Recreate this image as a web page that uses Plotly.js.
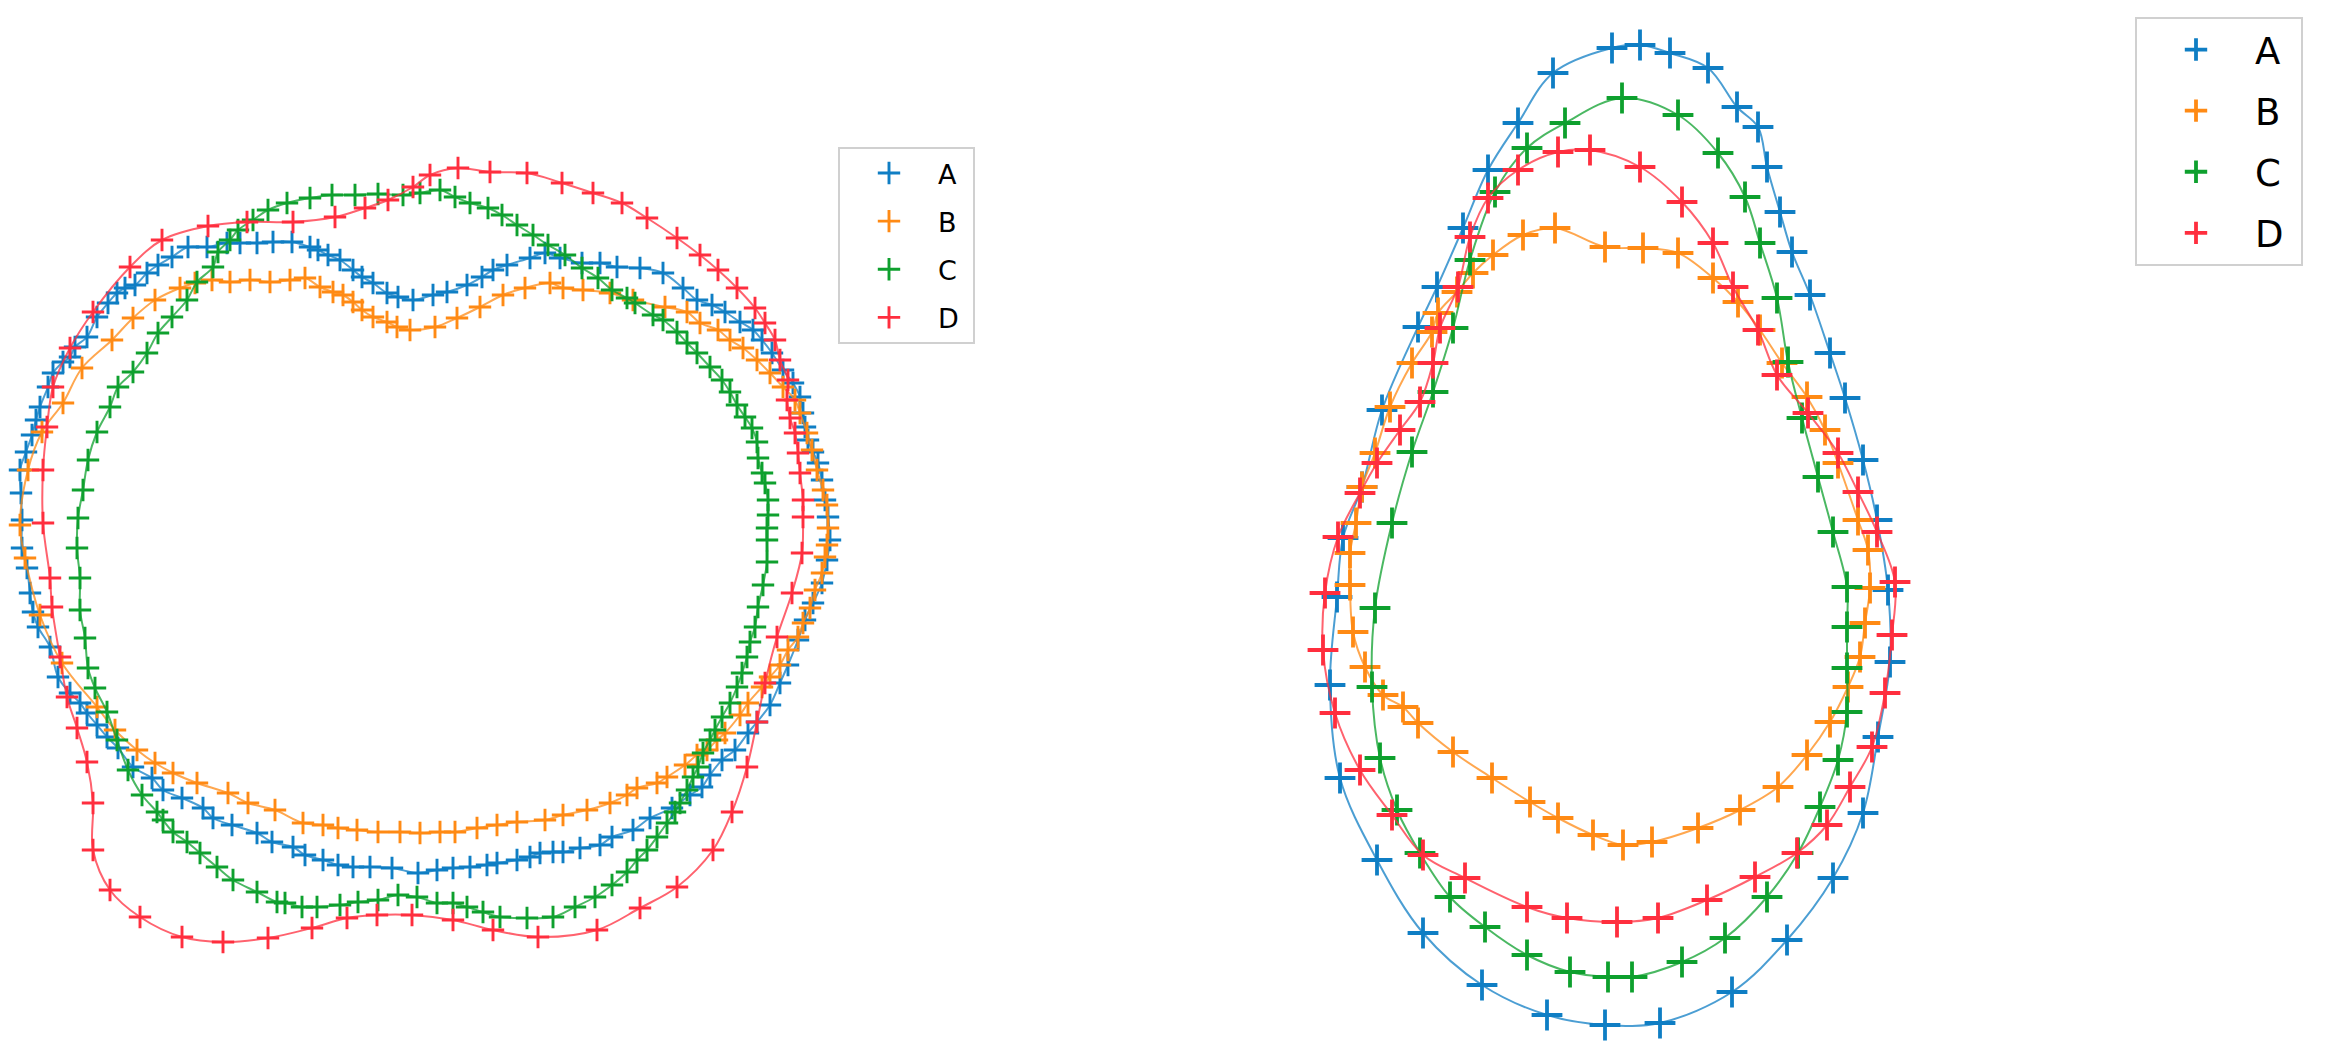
<!DOCTYPE html>
<html>
<head>
<meta charset="utf-8">
<script src="https://cdn.plot.ly/plotly-3.0.1.min.js"></script>
<style>
  html, body { margin: 0; padding: 0; background: #ffffff; }
  #chart { width: 2331px; height: 1053px; }
</style>
</head>
<body>
<div id="chart"></div>
<script>
// Outline points (image pixel units, y grows downward)
const names = ['A', 'B', 'C', 'D'];
const colors = ['#0f7ec4', '#ff8a14', '#0ea02e', '#ff2e3e'];

// left panel
const leftA = [[398,297],[413,300],[433,295],[447,292],[467,285],[482,277],[493,270],[507,265],[530,258],[545,253],[560,258],[582,263],[600,263],[617,267],[640,268],[663,273],[683,288],[697,300],[712,305],[725,312],[740,322],[753,330],[762,340],[772,353],[783,370],[793,383],[800,397],[803,413],[805,427],[808,440],[813,452],[818,463],[822,480],[825,500],[828,517],[830,540],[827,560],[822,583],[813,603],[805,620],[798,640],[788,665],[780,683],[770,705],[757,722],[748,733],[735,750],[722,760],[710,775],[702,787],[690,795],[672,808],[650,818],[633,830],[612,837],[600,845],[580,848],[563,852],[553,852],[540,853],[530,857],[517,860],[497,863],[487,865],[470,867],[453,868],[437,870],[418,873],[392,868],[370,867],[353,867],[338,865],[323,860],[305,855],[293,847],[272,842],[257,833],[232,825],[213,818],[203,808],[182,798],[163,790],[152,778],[133,767],[118,748],[107,737],[97,725],[87,713],[80,703],[70,693],[58,677],[50,647],[38,627],[33,612],[30,593],[27,568],[22,548],[22,520],[21,493],[20,470],[26,452],[32,435],[36,420],[40,407],[48,387],[53,373],[63,362],[70,357],[75,347],[87,337],[97,317],[108,303],[117,293],[125,288],[135,285],[147,273],[158,265],[172,257],[188,247],[207,247],[227,243],[240,243],[257,243],[273,242],[292,242],[310,247],[318,250],[328,255],[340,260],[353,270],[362,277],[373,283],[387,293]];
const leftB = [[20,525],[28,470],[42,432],[63,403],[82,368],[112,340],[133,318],[155,300],[180,288],[195,283],[212,280],[230,282],[250,280],[270,282],[290,280],[305,278],[320,287],[333,292],[343,295],[353,302],[362,310],[373,317],[387,322],[397,327],[410,330],[435,327],[457,318],[480,307],[503,295],[525,288],[550,283],[563,288],[583,290],[610,293],[633,300],[665,307],[687,312],[700,323],[718,330],[730,340],[743,348],[757,360],[770,373],[783,387],[795,400],[800,413],[807,433],[812,450],[817,470],[823,490],[827,505],[828,528],[827,545],[825,557],[822,573],[815,590],[810,608],[803,623],[798,637],[788,650],[780,665],[770,677],[762,687],[748,703],[740,715],[725,733],[717,740],[707,750],[697,755],[685,765],[667,777],[657,783],[637,788],[627,795],[610,803],[587,810],[563,815],[545,820],[517,822],[497,825],[477,828],[455,832],[440,832],[420,833],[400,832],[378,832],[357,830],[338,828],[323,825],[303,823],[275,810],[248,803],[228,793],[197,783],[173,773],[155,763],[137,750],[115,730],[97,707],[62,663],[40,615],[25,558]];
const leftC = [[77,548],[78,518],[83,490],[88,460],[97,432],[110,407],[118,387],[133,372],[147,353],[158,333],[172,317],[187,300],[197,282],[213,267],[218,252],[230,240],[238,230],[253,220],[268,210],[287,203],[310,198],[332,195],[355,195],[378,194],[403,195],[420,193],[440,190],[455,197],[470,203],[488,208],[502,215],[517,225],[533,235],[548,245],[565,255],[582,268],[598,278],[612,290],[627,298],[635,303],[653,315],[663,320],[677,332],[687,343],[697,353],[710,367],[722,380],[730,392],[737,405],[745,417],[752,428],[757,442],[758,458],[762,473],[765,483],[768,500],[768,515],[767,528],[767,540],[767,562],[763,585],[758,607],[755,627],[750,642],[747,657],[742,673],[737,687],[730,703],[722,717],[715,730],[710,740],[703,753],[698,767],[693,777],[687,790],[680,803],[675,812],[667,823],[657,837],[647,850],[637,860],[627,872],[612,885],[595,897],[575,907],[553,917],[527,918],[500,917],[483,912],[467,907],[453,903],[437,903],[417,897],[398,895],[378,900],[358,902],[340,905],[317,907],[302,907],[285,903],[277,902],[257,892],[233,880],[217,867],[200,853],[187,842],[173,832],[163,820],[157,812],[142,795],[128,770],[117,740],[107,712],[95,688],[88,668],[85,638],[80,610],[80,578]];
const leftD = [[430,175],[458,168],[490,172],[527,173],[562,183],[593,193],[622,203],[647,218],[677,238],[700,255],[718,270],[737,288],[755,308],[765,323],[775,340],[780,360],[788,380],[787,400],[790,418],[795,433],[798,453],[800,473],[803,500],[803,517],[802,553],[792,593],[777,637],[765,683],[757,722],[747,767],[732,812],[713,850],[677,887],[640,908],[597,930],[538,937],[493,930],[453,920],[412,915],[377,915],[347,918],[312,928],[268,938],[223,942],[182,937],[140,917],[110,890],[93,850],[93,803],[87,762],[77,728],[67,697],[60,657],[52,607],[50,578],[43,523],[43,470],[47,427],[53,387],[70,348],[93,312],[130,267],[162,240],[208,226],[247,222],[293,222],[335,217],[365,208],[388,200],[413,187]];

// right panel
const rightA = [[1612,48],[1640,45],[1670,53],[1708,68],[1737,107],[1758,127],[1767,167],[1780,212],[1792,252],[1810,295],[1830,353],[1845,398],[1863,460],[1877,520],[1888,590],[1890,662],[1878,737],[1863,813],[1833,878],[1787,940],[1732,992],[1660,1023],[1605,1025],[1547,1015],[1482,985],[1423,933],[1377,860],[1340,778],[1330,685],[1337,597],[1343,538],[1362,487],[1382,410],[1418,327],[1437,287],[1463,228],[1488,170],[1518,123],[1553,73]];
const rightB = [[1605,247],[1643,248],[1678,253],[1713,278],[1738,302],[1760,330],[1782,363],[1807,397],[1825,430],[1838,463],[1858,520],[1868,550],[1870,588],[1865,623],[1860,657],[1848,687],[1830,722],[1807,755],[1778,787],[1740,810],[1698,828],[1652,842],[1623,845],[1593,835],[1558,818],[1530,802],[1492,778],[1453,752],[1418,723],[1403,707],[1383,695],[1365,667],[1353,632],[1350,585],[1350,553],[1356,523],[1362,487],[1375,453],[1390,407],[1412,363],[1432,332],[1438,313],[1457,292],[1473,273],[1493,255],[1523,235],[1555,228]];
const rightC = [[1622,98],[1678,115],[1718,153],[1745,197],[1760,243],[1777,298],[1788,362],[1802,418],[1818,477],[1833,532],[1847,587],[1847,627],[1847,668],[1847,712],[1838,760],[1820,807],[1798,853],[1767,897],[1725,938],[1682,962],[1632,977],[1608,977],[1570,972],[1527,955],[1485,927],[1450,897],[1420,853],[1397,810],[1380,758],[1372,687],[1375,608],[1392,523],[1412,452],[1433,392],[1453,328],[1470,260],[1495,192],[1527,148],[1565,123]];
const rightD = [[1590,150],[1640,167],[1682,202],[1713,243],[1733,287],[1758,330],[1777,375],[1808,413],[1838,453],[1858,492],[1877,532],[1895,582],[1892,635],[1885,693],[1872,747],[1850,787],[1827,825],[1797,853],[1755,877],[1707,900],[1658,918],[1617,922],[1567,918],[1527,907],[1465,878],[1423,855],[1392,815],[1360,770],[1335,713],[1323,650],[1325,593],[1338,537],[1360,493],[1377,463],[1400,430],[1420,402],[1433,363],[1440,328],[1458,287],[1470,237],[1488,198],[1518,170],[1558,152]];

const leftSeries = [leftA, leftB, leftC, leftD];
const rightSeries = [rightA, rightB, rightC, rightD];

function outlineTraces(pts, i, legendName, markerSize, markerWidth) {
    // close the curve by repeating the first point
    const xs = pts.map(p => p[0]).concat([pts[0][0]]);
    const ys = pts.map(p => p[1]).concat([pts[0][1]]);

    const line = {
        x: xs,
        y: ys,
        type: 'scatter',
        mode: 'lines',
        line: { color: colors[i], width: 2, shape: 'spline', smoothing: 1 },
        opacity: 0.75,
        showlegend: false,
        hoverinfo: 'skip'
    };

    const marks = {
        x: pts.map(p => p[0]),
        y: pts.map(p => p[1]),
        type: 'scatter',
        mode: 'markers',
        name: names[i] + '\u00a0',   // a little room on the right, like the original box
        legend: legendName,
        legendgroup: legendName + names[i],
        marker: {
            symbol: 'cross-thin',
            size: markerSize,
            color: colors[i],
            line: { color: colors[i], width: markerWidth }
        }
    };

    return [line, marks];
}

const traces = [];
leftSeries.forEach((pts, i) => traces.push(...outlineTraces(pts, i, 'legend', 16, 2.9)));
rightSeries.forEach((pts, i) => traces.push(...outlineTraces(pts, i, 'legend2', 22, 3.8)));

const layout = {
    width: 2331,
    height: 1053,
    margin: { t: 0, l: 0, r: 0, b: 0 },
    paper_bgcolor: '#ffffff',
    plot_bgcolor: '#ffffff',
    xaxis: { range: [0, 2331], visible: false, fixedrange: true },
    yaxis: { range: [1053, 0], visible: false, fixedrange: true },
    legend: {
        x: 838 / 2331, y: 1 - 147 / 1053,
        xanchor: 'left', yanchor: 'top',
        font: { family: 'DejaVu Sans', size: 27, color: '#000000' },
        bgcolor: '#ffffff',
        bordercolor: '#d0d0d0',
        borderwidth: 2,
        itemwidth: 88,
        tracegroupgap: 10,
        traceorder: 'grouped'
    },
    legend2: {
        x: 2135 / 2331, y: 1 - 17 / 1053,
        xanchor: 'left', yanchor: 'top',
        font: { family: 'DejaVu Sans', size: 37, color: '#000000' },
        bgcolor: '#ffffff',
        bordercolor: '#d0d0d0',
        borderwidth: 2,
        itemwidth: 108,
        tracegroupgap: 10,
        traceorder: 'grouped'
    },
    showlegend: true
};

Plotly.newPlot('chart', traces, layout, { displayModeBar: false, staticPlot: true });
</script>
</body>
</html>
